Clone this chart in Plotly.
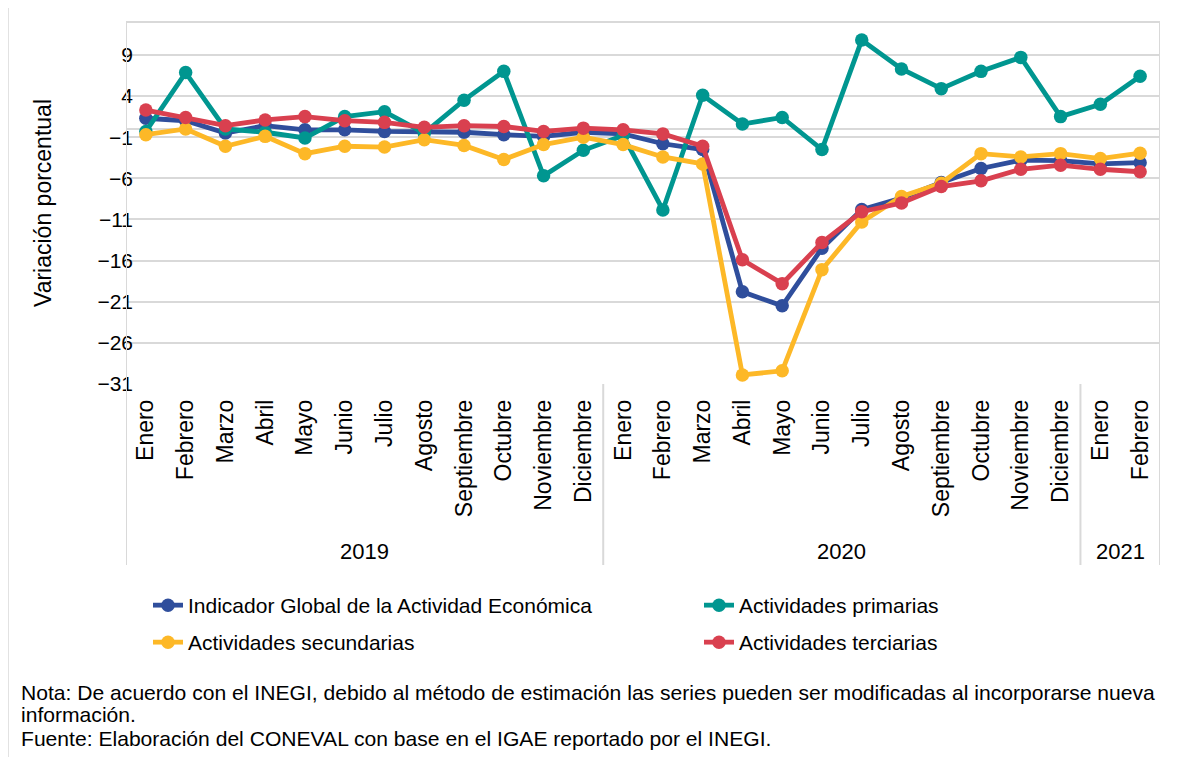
import plotly.graph_objects as go

# ---------------- data ----------------
meses = ["Enero", "Febrero", "Marzo", "Abril", "Mayo", "Junio", "Julio", "Agosto",
         "Septiembre", "Octubre", "Noviembre", "Diciembre",
         "Enero", "Febrero", "Marzo", "Abril", "Mayo", "Junio", "Julio", "Agosto",
         "Septiembre", "Octubre", "Noviembre", "Diciembre",
         "Enero", "Febrero"]
anios = ["2019"] * 12 + ["2020"] * 12 + ["2021"] * 2

igae = [1.3, 1.0, -0.5, 0.4, -0.1, -0.1, -0.3, -0.3, -0.4, -0.7, -0.9, -0.4,
        -0.6, -1.8, -2.5, -19.8, -21.5, -14.5, -9.8, -8.4, -6.5, -4.8, -3.8, -3.85,
        -4.25, -4.1]
primarias = [-0.3, 6.85, 0.0, -0.4, -1.1, 1.5, 2.1, -0.5, 3.5, 7.0, -5.7, -2.6,
             -0.8, -9.85, 4.1, 0.6, 1.4, -2.5, 10.8, 7.3, 4.9, 7.0, 8.7, 1.5,
             3.0, 6.4]
secundarias = [-0.7, 0.0, -2.1, -0.9, -3.0, -2.1, -2.2, -1.3, -2.0, -3.7, -1.9, -1.0,
               -1.9, -3.4, -4.25, -29.9, -29.4, -17.1, -11.3, -8.2, -6.6, -3.0, -3.4, -3.0,
               -3.6, -2.95]
terciarias = [2.3, 1.4, 0.4, 1.1, 1.5, 1.0, 0.8, 0.2, 0.4, 0.3, -0.3, 0.1,
              -0.1, -0.6, -2.1, -15.9, -18.8, -13.8, -10.05, -9.0, -7.0, -6.3, -4.9, -4.4,
              -4.9, -5.2]

series_names = ["Indicador Global de la Actividad Económica", "Actividades primarias",
                "Actividades secundarias", "Actividades terciarias"]
series_vals = [igae, primarias, secundarias, terciarias]
series_colors = ["#2F4E9C", "#009690", "#FDB827", "#D9404F"]

y_ticks = [-31, -26, -21, -16, -11, -6, -1, 4, 9]

notas = [
    "Nota: De acuerdo con el INEGI, debido al método de estimación las series pueden ser modificadas al incorporarse nueva",
    "información.",
    "Fuente: Elaboración del CONEVAL con base en el IGAE reportado por el INEGI.",
]

# ---------------- layout geometry ----------------
# page has an 8px body margin; positions below are in page pixels
OFF = 8
W, H = 1177 - OFF, 757 - OFF
PL, PT, PR, PB = 126, 22, 1160, 384          # plot area in page pixels
L, T = PL - OFF, PT - OFF
R = W - (PR - OFF)
B = H - (PB - OFF)
PW, PH = PR - PL, PB - PT
FONT = "Liberation Sans, Arial, sans-serif"
GRID = "#D9D9D9"


def px_x(p):
    return (p - PL) / PW


def px_y(p):
    return (PB - p) / PH


x_idx = list(range(len(meses)))

# legend slots (page pixels): left of legend box, top of legend box
legend_slots = [(148, 585), (699, 585), (148, 622), (699, 622)]
legend_keys = ["legend", "legend2", "legend3", "legend4"]

fig = go.Figure()
for name, vals, col, lg in zip(series_names, series_vals, series_colors, legend_keys):
    fig.add_trace(go.Scatter(
        x=x_idx, y=vals, name=name, mode="lines+markers",
        line=dict(color=col, width=4.8),
        marker=dict(color=col, size=13.5),
        legend=lg,
    ))

# vertical separators for year groups + plot frame
shapes = []
bounds = [-0.5]
cur = -0.5
for yr in dict.fromkeys(anios):
    cur += anios.count(yr)
    bounds.append(cur)
bottom_y = px_y(565)
for i, b in enumerate(bounds):
    top = 1 if i in (0, len(bounds) - 1) else 0
    shapes.append(dict(type="line", xref="x", yref="paper", x0=b, x1=b, y0=bottom_y, y1=top,
                       line=dict(color=GRID, width=2)))
shapes.append(dict(type="line", xref="x", yref="paper", x0=bounds[0], x1=bounds[-1], y0=1, y1=1,
                   line=dict(color=GRID, width=2)))
# chart area border
shapes.append(dict(type="rect", xref="paper", yref="paper", x0=px_x(8), x1=px_x(1190),
                   y0=px_y(780), y1=px_y(7), line=dict(color=GRID, width=1.5)))

annotations = []
# year labels
start = -0.5
for yr in dict.fromkeys(anios):
    n = anios.count(yr)
    annotations.append(dict(x=start + n / 2, y=px_y(551), xref="x", yref="paper", text=yr,
                            showarrow=False, font=dict(size=22, color="#000", family=FONT),
                            xanchor="center", yanchor="middle"))
    start += n
# notes
for txt, py in zip(notas, [692, 714, 738]):
    annotations.append(dict(x=px_x(19), y=px_y(py), xref="paper", yref="paper", text=txt,
                            showarrow=False, font=dict(size=21.1, color="#000", family=FONT),
                            xanchor="left", yanchor="middle", align="left"))

legend_layout = {}
for key, (lx, ly) in zip(legend_keys, legend_slots):
    legend_layout[key] = dict(orientation="h", x=px_x(lx), y=px_y(ly), xanchor="left",
                              yanchor="top", font=dict(size=21, color="#000", family=FONT),
                              bgcolor="rgba(0,0,0,0)", itemwidth=30)

fig.update_layout(
    width=W, height=H,
    margin=dict(l=L, r=R, t=T, b=B, pad=0),
    paper_bgcolor="white", plot_bgcolor="white",
    font=dict(family=FONT, size=21, color="#000"),
    shapes=shapes, annotations=annotations,
    showlegend=True,
    **legend_layout,
)

fig.update_xaxes(
    range=[-0.5, len(meses) - 0.5], tickmode="array", tickvals=x_idx, ticktext=meses,
    tickangle=-90, showgrid=False, zeroline=False, showline=False, ticks="",
    tickfont=dict(size=23, color="#000"), ticklabelstandoff=10,
)
fig.update_yaxes(
    range=[-31, 13], tickmode="array", tickvals=y_ticks,
    showgrid=True, gridcolor=GRID, gridwidth=2,
    zeroline=True, zerolinecolor=GRID, zerolinewidth=2,
    showline=False, ticks="", tickfont=dict(size=21, color="#000"),
    ticklabelstandoff=-8,
    title=dict(text="Variación porcentual", font=dict(size=23, color="#000"), standoff=39),
)

fig.write_html("out.html")
